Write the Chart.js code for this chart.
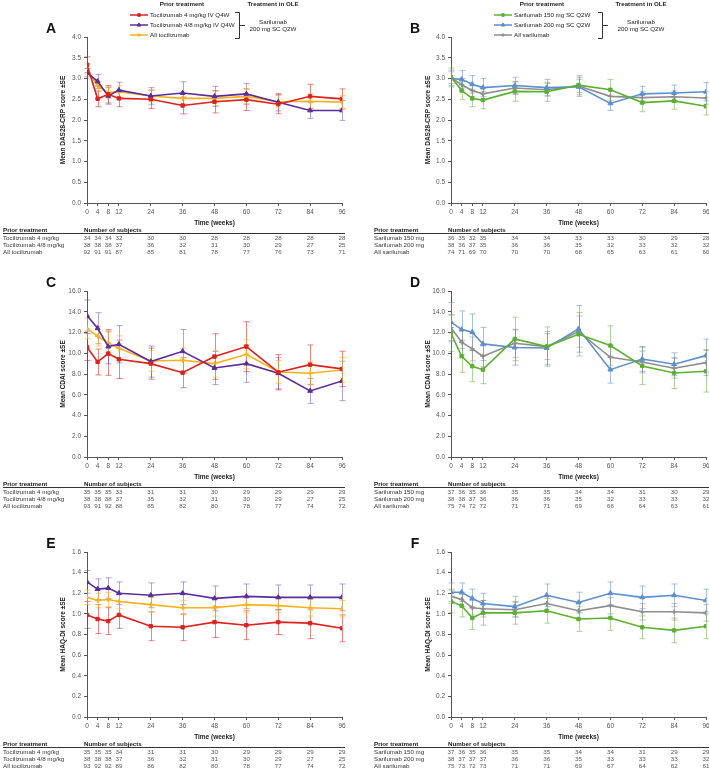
<!DOCTYPE html>
<html>
<head>
<meta charset="utf-8">
<script src="https://cdn.jsdelivr.net/npm/chart.js@4.4.1/dist/chart.umd.min.js"></script>
<style>
  html, body { margin: 0; padding: 0; background: #fff; }
  body { width: 709px; height: 773px; position: relative; overflow: hidden; }
  canvas { position: absolute; }
</style>
</head>
<body>
<canvas id="chartA"></canvas>
<canvas id="chartB"></canvas>
<canvas id="chartC"></canvas>
<canvas id="chartD"></canvas>
<canvas id="chartE"></canvas>
<canvas id="chartF"></canvas>
<script>
const weeks = [0, 4, 8, 12, 24, 36, 48, 60, 72, 84, 96];

const tociLabels = ["Tocilizumab 4 mg/kg IV Q4W", "Tocilizumab 4/8 mg/kg IV Q4W", "All tocilizumab"];
const sariLabels = ["Sarilumab 150 mg SC Q2W", "Sarilumab 200 mg SC Q2W", "All sarilumab"];
const tociRows = ["Tocilizumab 4 mg/kg", "Tocilizumab 4/8 mg/kg", "All tocilizumab"];
const sariRows = ["Sarilumab 150 mg", "Sarilumab 200 mg", "All sarilumab"];

// A: DAS28-CRP, prior tocilizumab
const dasToci4 = [3.33, 2.51, 2.62, 2.52, 2.50, 2.35, 2.44, 2.49, 2.38, 2.57, 2.51];
const dasToci4Se = [0.19, 0.19, 0.21, 0.20, 0.22, 0.20, 0.27, 0.26, 0.23, 0.29, 0.24];
const dasToci48 = [3.14, 2.93, 2.58, 2.72, 2.58, 2.65, 2.57, 2.63, 2.43, 2.23, 2.23];
const dasToci48Se = [0.10, 0.17, 0.20, 0.19, 0.20, 0.27, 0.24, 0.25, 0.21, 0.19, 0.24];
const dasTociAll = [3.22, 2.82, 2.66, 2.68, 2.58, 2.52, 2.52, 2.57, 2.44, 2.45, 2.43];
const dasTociAllSe = [0.13, 0.12, 0.14, 0.14, 0.14, 0.15, 0.17, 0.18, 0.15, 0.18, 0.16];
const nDasToci4 = [34, 34, 34, 32, 30, 30, 28, 28, 28, 28, 28];
const nDasToci48 = [38, 38, 38, 37, 36, 32, 31, 30, 29, 27, 25];
const nDasTociAll = [92, 91, 91, 87, 85, 81, 78, 77, 76, 73, 71];

// B: DAS28-CRP, prior sarilumab
const dasSari150 = [3.04, 2.71, 2.52, 2.48, 2.69, 2.68, 2.84, 2.73, 2.42, 2.46, 2.33];
const dasSari150Se = [0.21, 0.21, 0.20, 0.21, 0.24, 0.23, 0.23, 0.25, 0.22, 0.20, 0.21];
const dasSari200 = [3.00, 2.98, 2.86, 2.78, 2.83, 2.78, 2.80, 2.40, 2.63, 2.65, 2.68];
const dasSari200Se = [0.20, 0.21, 0.21, 0.22, 0.20, 0.20, 0.23, 0.17, 0.18, 0.19, 0.22];
const dasSariAll = [3.02, 2.85, 2.71, 2.63, 2.77, 2.73, 2.82, 2.57, 2.54, 2.56, 2.53];
const dasSariAllSe = [0.14, 0.15, 0.14, 0.15, 0.15, 0.15, 0.16, 0.15, 0.14, 0.14, 0.15];
const nDasSari150 = [36, 35, 32, 35, 34, 34, 33, 33, 30, 29, 28];
const nDasSari200 = [38, 36, 37, 35, 36, 36, 35, 32, 33, 32, 32];
const nDasSariAll = [74, 71, 69, 70, 70, 70, 68, 65, 63, 61, 60];

// C: CDAI, prior tocilizumab
const cdaiToci4 = [10.6, 9.16, 9.97, 9.42, 9.0, 8.13, 9.68, 10.64, 8.17, 8.9, 8.49];
const cdaiToci4Se = [1.3, 1.25, 2.1, 1.85, 1.5, 1.45, 2.2, 2.4, 1.7, 1.9, 1.7];
const cdaiToci48 = [13.63, 12.41, 10.64, 10.87, 9.2, 10.19, 8.58, 9.0, 8.07, 6.37, 7.33];
const cdaiToci48Se = [1.5, 1.5, 1.65, 1.8, 1.5, 2.1, 1.6, 1.8, 1.5, 1.2, 1.9];
const cdaiTociAll = [12.4, 11.64, 11.0, 10.48, 9.26, 9.32, 9.0, 9.9, 8.2, 8.07, 8.39];
const cdaiTociAllSe = [1.0, 0.95, 1.2, 1.2, 1.0, 1.2, 1.3, 1.4, 1.1, 1.1, 1.2];
const nCdaiToci4 = [35, 35, 35, 33, 31, 31, 30, 29, 29, 29, 29];
const nCdaiToci48 = [38, 38, 38, 37, 35, 32, 31, 30, 29, 27, 25];
const nCdaiTociAll = [93, 91, 92, 88, 85, 82, 80, 78, 77, 74, 72];

// D: CDAI, prior sarilumab
const cdaiSari150 = [11.93, 9.71, 8.75, 8.42, 11.38, 10.64, 11.83, 10.74, 8.78, 8.1, 8.26];
const cdaiSari150Se = [1.75, 1.55, 1.5, 1.35, 2.1, 1.9, 2.1, 1.9, 1.8, 1.5, 2.0];
const cdaiSari200 = [13.0, 12.28, 12.03, 10.9, 10.55, 10.5, 12.35, 8.42, 9.45, 8.94, 9.77];
const cdaiSari200Se = [1.9, 1.8, 1.75, 1.6, 1.7, 1.6, 2.25, 1.3, 1.2, 1.1, 1.6];
const cdaiSariAll = [12.47, 11.06, 10.42, 9.71, 10.96, 10.64, 12.09, 9.61, 9.16, 8.55, 9.1];
const cdaiSariAllSe = [1.25, 1.2, 1.15, 1.0, 1.35, 1.25, 1.5, 1.15, 1.05, 0.95, 1.25];
const nCdaiSari150 = [37, 36, 35, 36, 35, 35, 34, 34, 31, 30, 29];
const nCdaiSari200 = [38, 38, 37, 36, 36, 36, 35, 32, 33, 33, 32];
const nCdaiSariAll = [75, 74, 72, 72, 71, 71, 69, 66, 64, 63, 61];

// E: HAQ-DI, prior tocilizumab
const haqToci4 = [0.99, 0.95, 0.93, 0.99, 0.88, 0.87, 0.92, 0.89, 0.92, 0.91, 0.86];
const haqToci4Se = [0.13, 0.14, 0.13, 0.13, 0.14, 0.13, 0.15, 0.14, 0.12, 0.15, 0.13];
const haqToci48 = [1.31, 1.24, 1.25, 1.20, 1.18, 1.20, 1.15, 1.17, 1.16, 1.16, 1.16];
const haqToci48Se = [0.11, 0.10, 0.10, 0.11, 0.12, 0.11, 0.12, 0.12, 0.12, 0.12, 0.13];
const haqTociAll = [1.16, 1.13, 1.14, 1.12, 1.09, 1.06, 1.06, 1.09, 1.08, 1.06, 1.05];
const haqTociAllSe = [0.07, 0.07, 0.07, 0.07, 0.07, 0.07, 0.08, 0.08, 0.07, 0.08, 0.08];
const nHaqToci4 = [35, 35, 35, 34, 31, 31, 30, 29, 29, 29, 29];
const nHaqToci48 = [38, 38, 38, 37, 36, 32, 31, 30, 29, 27, 25];
const nHaqTociAll = [93, 92, 92, 89, 86, 82, 80, 78, 77, 74, 72];

// F: HAQ-DI, prior sarilumab
const haqSari150 = [1.12, 1.08, 0.96, 1.01, 1.01, 1.03, 0.95, 0.96, 0.87, 0.84, 0.88];
const haqSari150Se = [0.11, 0.11, 0.11, 0.12, 0.11, 0.12, 0.12, 0.12, 0.11, 0.12, 0.12];
const haqSari200 = [1.21, 1.21, 1.15, 1.10, 1.07, 1.18, 1.11, 1.20, 1.16, 1.18, 1.13];
const haqSari200Se = [0.09, 0.09, 0.09, 0.10, 0.10, 0.11, 0.10, 0.11, 0.11, 0.11, 0.11];
const haqSariAll = [1.17, 1.14, 1.06, 1.05, 1.04, 1.10, 1.03, 1.08, 1.02, 1.02, 1.01];
const haqSariAllSe = [0.07, 0.07, 0.07, 0.08, 0.07, 0.08, 0.08, 0.08, 0.08, 0.08, 0.08];
const nHaqSari150 = [37, 36, 35, 36, 35, 35, 34, 34, 31, 29, 29];
const nHaqSari200 = [38, 37, 37, 37, 36, 36, 35, 33, 33, 33, 32];
const nHaqSariAll = [75, 73, 72, 73, 71, 71, 69, 67, 64, 62, 61];

const FONT = '"Liberation Sans", Arial, sans-serif';
Chart.defaults.font.family = FONT;
const SMALL = 6.2;

const tociStyle = [
  { color: "#e0201b", err: "rgba(224,32,27,0.55)", pointStyle: "rect", radius: 2.4 },
  { color: "#5b2c9c", err: "rgba(110,70,180,0.5)", pointStyle: "triangle", radius: 2.8 },
  { color: "#fbb21a", err: "rgba(251,178,26,0.6)", pointStyle: "cross", radius: 2.6 },
];
const sariStyle = [
  { color: "#5bb030", err: "rgba(91,176,48,0.5)", pointStyle: "rect", radius: 2.4 },
  { color: "#5b8fd0", err: "rgba(91,143,208,0.55)", pointStyle: "triangle", radius: 2.8 },
  { color: "#8e8e8e", err: "rgba(142,142,142,0.55)", pointStyle: "cross", radius: 2.6 },
];

// error bars drawn from each dataset's se array through the chart scales
const errorBars = {
  id: "errorBars",
  beforeDatasetsDraw(chart) {
    const { ctx, scales } = chart;
    chart.data.datasets.forEach((ds) => {
      ctx.save();
      ctx.strokeStyle = ds.errColor;
      ctx.lineWidth = 1;
      ds.data.forEach((p, i) => {
        const px = Math.round(scales.x.getPixelForValue(p.x)) + 0.5;
        const lo = scales.y.getPixelForValue(p.y - ds.se[i]);
        const hi = scales.y.getPixelForValue(p.y + ds.se[i]);
        ctx.beginPath();
        ctx.moveTo(px, lo);
        ctx.lineTo(px, hi);
        ctx.moveTo(px - 3, lo);
        ctx.lineTo(px + 3, lo);
        ctx.moveTo(px - 3, hi);
        ctx.lineTo(px + 3, hi);
        ctx.stroke();
      });
      ctx.restore();
    });
  },
};

// panel letter, legend (top row only) and the number-of-subjects table
const extras = {
  id: "extras",
  afterDraw(chart, args, opts) {
    const { ctx, chartArea, scales } = chart;
    ctx.save();
    ctx.fillStyle = "#111";
    ctx.font = "bold 14px " + FONT;
    ctx.textAlign = "center";
    ctx.textBaseline = "middle";
    ctx.fillText(opts.letter, chartArea.left - 36, chartArea.top - 8);

    if (opts.legend) {
      const lg = opts.legend;
      ctx.font = "bold " + SMALL + "px " + FONT;
      ctx.fillStyle = "#222";
      ctx.fillText("Prior treatment", lg.priorX, 4);
      ctx.fillText("Treatment in OLE", lg.oleX, 4);
      ctx.font = SMALL + "px " + FONT;
      ctx.fillText("Sarilumab", lg.oleX, 22);
      ctx.fillText("200 mg SC Q2W", lg.oleX, 29);
      ctx.textAlign = "left";
      chart.data.datasets.forEach((ds, i) => {
        const y = 15 + i * 10;
        ctx.strokeStyle = ds.borderColor;
        ctx.fillStyle = ds.borderColor;
        ctx.lineWidth = 1.5;
        ctx.beginPath();
        ctx.moveTo(lg.lineX, y);
        ctx.lineTo(lg.lineX + 18, y);
        ctx.stroke();
        ctx.lineWidth = 1;
        Chart.helpers.drawPoint(ctx, { pointStyle: ds.pointStyle, radius: ds.pointRadius * 0.75, borderWidth: 1, rotation: 0 }, lg.lineX + 9, y);
        ctx.fillStyle = "#222";
        ctx.fillText(ds.label, lg.lineX + 20, y + 0.5);
      });
      ctx.strokeStyle = "#333";
      ctx.lineWidth = 1;
      ctx.beginPath();
      ctx.moveTo(lg.bracketX - 4, 12.5);
      ctx.lineTo(lg.bracketX + 0.5, 12.5);
      ctx.lineTo(lg.bracketX + 0.5, 38.5);
      ctx.lineTo(lg.bracketX - 4, 38.5);
      ctx.moveTo(lg.bracketX + 0.5, 25.5);
      ctx.lineTo(lg.bracketX + 6, 25.5);
      ctx.stroke();
    }

    const tb = opts.table;
    const b = chartArea.bottom;
    ctx.textBaseline = "middle";
    ctx.textAlign = "left";
    ctx.font = "bold " + SMALL + "px " + FONT;
    ctx.fillStyle = "#222";
    ctx.fillText("Prior treatment", tb.labelX, b + 27);
    ctx.fillText("Number of subjects", chartArea.left - 3, b + 27);
    ctx.strokeStyle = "#333";
    ctx.lineWidth = 1;
    ctx.beginPath();
    ctx.moveTo(tb.labelX, b + 30.5);
    ctx.lineTo(tb.lineEnd, b + 30.5);
    ctx.stroke();
    ctx.font = SMALL + "px " + FONT;
    tb.rows.forEach((row, r) => {
      const y = b + 35 + r * 7;
      ctx.textAlign = "left";
      ctx.fillStyle = "#333";
      ctx.fillText(row.label, tb.labelX, y);
      ctx.textAlign = "center";
      ctx.fillStyle = "#555";
      row.counts.forEach((n, i) => {
        ctx.fillText(String(n), scales.x.getPixelForValue(weeks[i]), y);
      });
    });
    ctx.restore();
  },
};

function makeDatasets(labels, styles, series) {
  return series.map((s, k) => ({
    label: labels[k],
    data: weeks.map((w, i) => ({ x: w, y: s.values[i] })),
    se: s.se,
    errColor: styles[k].err,
    borderColor: styles[k].color,
    backgroundColor: styles[k].color,
    pointStyle: styles[k].pointStyle,
    pointRadius: styles[k].radius,
    pointBorderWidth: styles[k].pointStyle === "cross" ? 1.4 : 1,
    borderWidth: 1.6,
    tension: 0,
  }));
}

function makePanel(p) {
  const el = document.getElementById(p.id);
  el.width = p.width;
  el.height = p.height;
  el.style.left = p.left + "px";
  el.style.top = p.top + "px";
  const isLeft = p.side === "left";
  const tickFont = { size: 6.5, family: FONT };
  const titleFont = { size: 6.5, weight: "bold", family: FONT };
  return new Chart(el, {
    type: "line",
    data: { datasets: p.datasets },
    plugins: [errorBars, extras],
    options: {
      responsive: false,
      animation: false,
      layout: {
        padding: {
          top: p.plotTop,
          left: isLeft ? 57 : 68,
          right: isLeft ? 12 : 8,
          bottom: p.height - p.plotBottom - 26,
        },
      },
      plugins: {
        legend: { display: false },
        tooltip: { enabled: false },
        extras: { letter: p.letter, legend: p.legend, table: p.table },
      },
      scales: {
        x: {
          type: "linear",
          min: 0,
          max: 96,
          afterBuildTicks: (s) => { s.ticks = weeks.map((v) => ({ value: v })); },
          afterFit: (s) => { s.height = 26; },
          grid: { drawOnChartArea: false, drawTicks: true, tickLength: 3, color: "#555" },
          border: { color: "#555", width: 1 },
          ticks: { autoSkip: false, maxRotation: 0, padding: 2, font: tickFont, color: "#555" },
          title: { display: true, text: "Time (weeks)", font: titleFont, color: "#222", padding: { top: 0, bottom: 2 } },
        },
        y: {
          min: p.yMin,
          max: p.yMax,
          afterFit: (s) => { s.width = isLeft ? 30 : 29; },
          grid: { drawOnChartArea: false, drawTicks: true, tickLength: 3, color: "#555" },
          border: { color: "#555", width: 1 },
          ticks: { stepSize: p.yStep, padding: 3, font: tickFont, color: "#555", callback: (v) => Number(v).toFixed(1) },
          title: { display: true, text: p.yTitle, font: titleFont, color: "#222", padding: { top: 2, bottom: 0 } },
        },
      },
    },
  });
}

const rowTops = [0, 258, 512];
const rowHeights = [258, 254, 261];
const plotTops = [37, 33, 40];
const plotBottoms = [203, 199, 205];

const tociLegend = { lineX: 130, priorX: 182, oleX: 273, bracketX: 239 };
const sariLegend = { lineX: 140, priorX: 188, oleX: 287, bracketX: 248 };

const panelDefs = [
  { id: "chartA", letter: "A", side: "left", row: 0, yMax: 4, yStep: 0.5, yTitle: "Mean DAS28-CRP score \u00b1SE", legend: tociLegend,
    labels: tociLabels, styles: tociStyle, rowLabels: tociRows,
    series: [{ values: dasToci4, se: dasToci4Se }, { values: dasToci48, se: dasToci48Se }, { values: dasTociAll, se: dasTociAllSe }],
    counts: [nDasToci4, nDasToci48, nDasTociAll] },
  { id: "chartB", letter: "B", side: "right", row: 0, yMax: 4, yStep: 0.5, yTitle: "Mean DAS28-CRP score \u00b1SE", legend: sariLegend,
    labels: sariLabels, styles: sariStyle, rowLabels: sariRows,
    series: [{ values: dasSari150, se: dasSari150Se }, { values: dasSari200, se: dasSari200Se }, { values: dasSariAll, se: dasSariAllSe }],
    counts: [nDasSari150, nDasSari200, nDasSariAll] },
  { id: "chartC", letter: "C", side: "left", row: 1, yMax: 16, yStep: 2, yTitle: "Mean CDAI score \u00b1SE", legend: null,
    labels: tociLabels, styles: tociStyle, rowLabels: tociRows,
    series: [{ values: cdaiToci4, se: cdaiToci4Se }, { values: cdaiToci48, se: cdaiToci48Se }, { values: cdaiTociAll, se: cdaiTociAllSe }],
    counts: [nCdaiToci4, nCdaiToci48, nCdaiTociAll] },
  { id: "chartD", letter: "D", side: "right", row: 1, yMax: 16, yStep: 2, yTitle: "Mean CDAI score \u00b1SE", legend: null,
    labels: sariLabels, styles: sariStyle, rowLabels: sariRows,
    series: [{ values: cdaiSari150, se: cdaiSari150Se }, { values: cdaiSari200, se: cdaiSari200Se }, { values: cdaiSariAll, se: cdaiSariAllSe }],
    counts: [nCdaiSari150, nCdaiSari200, nCdaiSariAll] },
  { id: "chartE", letter: "E", side: "left", row: 2, yMax: 1.6, yStep: 0.2, yTitle: "Mean HAQ-DI score \u00b1SE", legend: null,
    labels: tociLabels, styles: tociStyle, rowLabels: tociRows,
    series: [{ values: haqToci4, se: haqToci4Se }, { values: haqToci48, se: haqToci48Se }, { values: haqTociAll, se: haqTociAllSe }],
    counts: [nHaqToci4, nHaqToci48, nHaqTociAll] },
  { id: "chartF", letter: "F", side: "right", row: 2, yMax: 1.6, yStep: 0.2, yTitle: "Mean HAQ-DI score \u00b1SE", legend: null,
    labels: sariLabels, styles: sariStyle, rowLabels: sariRows,
    series: [{ values: haqSari150, se: haqSari150Se }, { values: haqSari200, se: haqSari200Se }, { values: haqSariAll, se: haqSariAllSe }],
    counts: [nHaqSari150, nHaqSari200, nHaqSariAll] },
];

panelDefs.forEach((d) => {
  const isLeft = d.side === "left";
  makePanel({
    id: d.id,
    letter: d.letter,
    side: d.side,
    left: isLeft ? 0 : 354,
    top: rowTops[d.row],
    width: isLeft ? 354 : 360,
    height: rowHeights[d.row],
    plotTop: plotTops[d.row],
    plotBottom: plotBottoms[d.row],
    yMin: 0,
    yMax: d.yMax,
    yStep: d.yStep,
    yTitle: d.yTitle,
    legend: d.legend,
    datasets: makeDatasets(d.labels, d.styles, d.series),
    table: {
      labelX: isLeft ? 3 : 20,
      lineEnd: isLeft ? 345 : 360,
      rows: d.rowLabels.map((label, k) => ({ label: label, counts: d.counts[k] })),
    },
  });
});
</script>
</body>
</html>
